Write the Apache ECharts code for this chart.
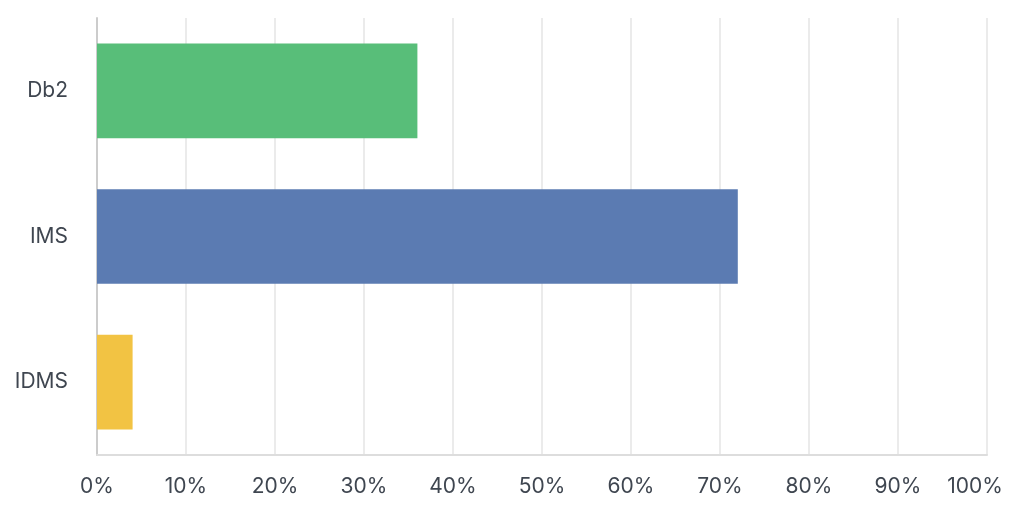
<!DOCTYPE html>
<html><head><meta charset="utf-8">
<script src="https://cdn.jsdelivr.net/npm/echarts@6/dist/echarts.min.js"></script>
<style>html,body{margin:0;padding:0;background:#fff}#c{width:1024px;height:514px}</style>
</head><body><div id="c"></div>
<script>
const categories = ['IDMS', 'IMS', 'Db2'];
const values = [4, 72, 36];
const barColors = ['#f2c343', '#5b7bb2', '#58be79'];
const xTicks = [0, 10, 20, 30, 40, 50, 60, 70, 80, 90, 100];

const labelColor = '#3f4650';
const chart = echarts.init(document.getElementById('c'), null, {renderer: 'canvas'});
chart.setOption({
  animation: false,
  grid: {left: 97, right: 37, top: 18, bottom: 59, containLabel: false},
  xAxis: {
    type: 'value', min: 0, max: 100, interval: 10,
    axisLine: {show: true, lineStyle: {color: '#dddddd', width: 2}},
    axisTick: {show: false},
    splitLine: {show: true, lineStyle: {color: '#ebebeb', width: 2}},
    axisLabel: {margin: 21, color: labelColor, fontSize: 21, fontFamily: 'Inter',
      formatter: v => {
        if (!xTicks.includes(v)) return '';
        return v === xTicks[xTicks.length - 1] ? '{last|' + v + '%}' : v + '%';
      },
      rich: {last: {padding: [0, 24, 0, 0], color: labelColor, fontSize: 21, fontFamily: 'Inter'}}
    }
  },
  yAxis: {
    type: 'category', data: categories,
    axisLine: {show: true, lineStyle: {color: '#cccccc', width: 2}},
    axisTick: {show: false},
    axisLabel: {margin: 29, color: labelColor, fontSize: 21, fontFamily: 'Inter'}
  },
  series: [{
    type: 'bar',
    data: values.map((v, i) => ({value: v, itemStyle: {color: barColors[i]}})),
    barCategoryGap: '35%'
  }]
});
</script></body></html>
